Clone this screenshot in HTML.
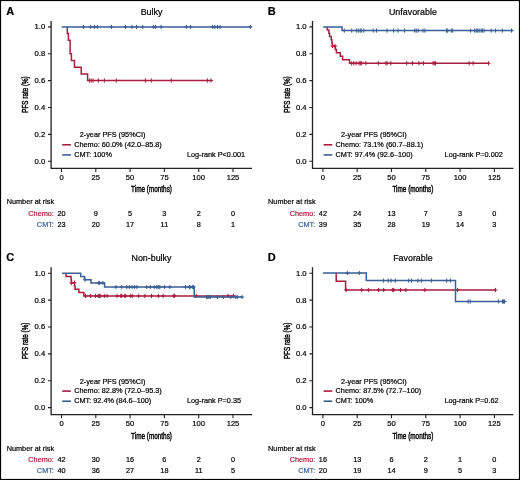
<!DOCTYPE html>
<html><head><meta charset="utf-8"><style>
html,body{margin:0;padding:0;background:#fff;}
svg{display:block;font-family:"Liberation Sans", sans-serif;will-change:transform;} text{stroke-width:0.2px;}
</style></head><body>
<svg width="520" height="480" viewBox="0 0 520 480">
<rect x="0" y="0" width="520" height="480" fill="#fff"/>
<g transform="translate(0,0)">
<text x="6.3" y="15.1" font-size="11" font-weight="bold" fill="#000" stroke="#000">A</text>
<text x="151.5" y="14.7" font-size="8.9" text-anchor="middle" fill="#000" stroke="#000">Bulky</text>
<path d="M51.1,21V168.4H252" fill="none" stroke="#222" stroke-width="1.3"/>
<path d="M48,161.30H51.1M48,134.42H51.1M48,107.54H51.1M48,80.66H51.1M48,53.78H51.1M48,26.90H51.1M61.50,168.4V171.9M95.80,168.4V171.9M130.10,168.4V171.9M164.40,168.4V171.9M198.70,168.4V171.9M233.00,168.4V171.9" fill="none" stroke="#222" stroke-width="1.1"/>
<text x="45.2" y="163.75" font-size="7.7" text-anchor="end" fill="#000" stroke="#000">0.0</text>
<text x="45.2" y="136.87" font-size="7.7" text-anchor="end" fill="#000" stroke="#000">0.2</text>
<text x="45.2" y="109.99" font-size="7.7" text-anchor="end" fill="#000" stroke="#000">0.4</text>
<text x="45.2" y="83.11" font-size="7.7" text-anchor="end" fill="#000" stroke="#000">0.6</text>
<text x="45.2" y="56.23" font-size="7.7" text-anchor="end" fill="#000" stroke="#000">0.8</text>
<text x="45.2" y="29.35" font-size="7.7" text-anchor="end" fill="#000" stroke="#000">1.0</text>
<text x="61.50" y="179.9" font-size="7.6" text-anchor="middle" fill="#000" stroke="#000">0</text>
<text x="95.80" y="179.9" font-size="7.6" text-anchor="middle" fill="#000" stroke="#000">25</text>
<text x="130.10" y="179.9" font-size="7.6" text-anchor="middle" fill="#000" stroke="#000">50</text>
<text x="164.40" y="179.9" font-size="7.6" text-anchor="middle" fill="#000" stroke="#000">75</text>
<text x="198.70" y="179.9" font-size="7.6" text-anchor="middle" fill="#000" stroke="#000">100</text>
<text x="233.00" y="179.9" font-size="7.6" text-anchor="middle" fill="#000" stroke="#000">125</text>
<text x="151.5" y="192.3" font-size="9.3" text-anchor="middle" textLength="40.9" lengthAdjust="spacingAndGlyphs" style="stroke-width:0.45px" fill="#000" stroke="#000">Time (months)</text>
<text transform="translate(28.4,94.5) rotate(-90)" x="0" y="0" font-size="9.3" text-anchor="middle" textLength="36.4" lengthAdjust="spacingAndGlyphs" style="stroke-width:0.45px" fill="#000" stroke="#000">PFS rate (%)</text>
<text x="79.7" y="137.4" font-size="7.3" fill="#000" stroke="#000">2-year PFS (95%CI)</text>
<path d="M62.2,144.8H70.9" stroke="#a91d3f" stroke-width="1.6"/>
<text x="74.2" y="146.9" font-size="7.3" fill="#000" stroke="#000">Chemo: 60.0% (42.0–85.8)</text>
<path d="M62.2,154.9H70.9" stroke="#3a5f95" stroke-width="1.6"/>
<text x="74.2" y="157.1" font-size="7.3" fill="#000" stroke="#000">CMT: 100%</text>
<text x="186.9" y="157" font-size="7.3" fill="#000" stroke="#000">Log-rank P&lt;0.001</text>
<text x="6.7" y="204.3" font-size="7.3" fill="#000" stroke="#000">Number at risk</text>
<text x="53.9" y="215.6" font-size="7.3" text-anchor="end" fill="#a91d3f" stroke="#a91d3f">Chemo:</text>
<text x="53.9" y="226.6" font-size="7.3" text-anchor="end" fill="#3a5f95" stroke="#3a5f95">CMT:</text>
<text x="61.50" y="215.6" font-size="7.3" text-anchor="middle" fill="#000" stroke="#000">20</text>
<text x="61.50" y="226.6" font-size="7.3" text-anchor="middle" fill="#000" stroke="#000">23</text>
<text x="95.80" y="215.6" font-size="7.3" text-anchor="middle" fill="#000" stroke="#000">9</text>
<text x="95.80" y="226.6" font-size="7.3" text-anchor="middle" fill="#000" stroke="#000">20</text>
<text x="130.10" y="215.6" font-size="7.3" text-anchor="middle" fill="#000" stroke="#000">5</text>
<text x="130.10" y="226.6" font-size="7.3" text-anchor="middle" fill="#000" stroke="#000">17</text>
<text x="164.40" y="215.6" font-size="7.3" text-anchor="middle" fill="#000" stroke="#000">3</text>
<text x="164.40" y="226.6" font-size="7.3" text-anchor="middle" fill="#000" stroke="#000">11</text>
<text x="198.70" y="215.6" font-size="7.3" text-anchor="middle" fill="#000" stroke="#000">2</text>
<text x="198.70" y="226.6" font-size="7.3" text-anchor="middle" fill="#000" stroke="#000">8</text>
<text x="233.00" y="215.6" font-size="7.3" text-anchor="middle" fill="#000" stroke="#000">0</text>
<text x="233.00" y="226.6" font-size="7.3" text-anchor="middle" fill="#000" stroke="#000">1</text>
</g>
<path d="M67.30,26.90H67.30V33.50H68.40V40.30H70.10V53.70H71.40V60.40H74.50V67.20H81.20V73.90H87.60V80.50H211.80" fill="none" stroke="#a91d3f" stroke-width="1.5" stroke-linejoin="miter"/><path d="M89.60,78.40V82.60M87.60,80.50H91.60M91.20,78.40V82.60M89.20,80.50H93.20M93.10,78.40V82.60M91.10,80.50H95.10M98.30,78.40V82.60M96.30,80.50H100.30M104.40,78.40V82.60M102.40,80.50H106.40M116.30,78.40V82.60M114.30,80.50H118.30M145.40,78.40V82.60M143.40,80.50H147.40M151.30,78.40V82.60M149.30,80.50H153.30M171.30,78.40V82.60M169.30,80.50H173.30M207.40,78.40V82.60M205.40,80.50H209.40M211.00,78.40V82.60M209.00,80.50H213.00" fill="none" stroke="#a91d3f" stroke-width="1.0"/>
<path d="M61.70,26.90H251.80" fill="none" stroke="#3a5f95" stroke-width="1.5" stroke-linejoin="miter"/><path d="M83.40,24.80V29.00M81.40,26.90H85.40M90.60,24.80V29.00M88.60,26.90H92.60M94.40,24.80V29.00M92.40,26.90H96.40M97.30,24.80V29.00M95.30,26.90H99.30M111.50,24.80V29.00M109.50,26.90H113.50M125.50,24.80V29.00M123.50,26.90H127.50M131.90,24.80V29.00M129.90,26.90H133.90M136.50,24.80V29.00M134.50,26.90H138.50M142.70,24.80V29.00M140.70,26.90H144.70M153.40,24.80V29.00M151.40,26.90H155.40M155.50,24.80V29.00M153.50,26.90H157.50M161.10,24.80V29.00M159.10,26.90H163.10M186.30,24.80V29.00M184.30,26.90H188.30M190.60,24.80V29.00M188.60,26.90H192.60M212.70,24.80V29.00M210.70,26.90H214.70M214.80,24.80V29.00M212.80,26.90H216.80M217.50,24.80V29.00M215.50,26.90H219.50M220.00,24.80V29.00M218.00,26.90H222.00M250.30,24.80V29.00M248.30,26.90H252.30" fill="none" stroke="#3a5f95" stroke-width="1.0"/>
<g transform="translate(261.4,0)">
<text x="6.3" y="15.1" font-size="11" font-weight="bold" fill="#000" stroke="#000">B</text>
<text x="151.5" y="14.7" font-size="8.9" text-anchor="middle" fill="#000" stroke="#000">Unfavorable</text>
<path d="M51.1,21V168.4H252" fill="none" stroke="#222" stroke-width="1.3"/>
<path d="M48,161.30H51.1M48,134.42H51.1M48,107.54H51.1M48,80.66H51.1M48,53.78H51.1M48,26.90H51.1M61.50,168.4V171.9M95.80,168.4V171.9M130.10,168.4V171.9M164.40,168.4V171.9M198.70,168.4V171.9M233.00,168.4V171.9" fill="none" stroke="#222" stroke-width="1.1"/>
<text x="45.2" y="163.75" font-size="7.7" text-anchor="end" fill="#000" stroke="#000">0.0</text>
<text x="45.2" y="136.87" font-size="7.7" text-anchor="end" fill="#000" stroke="#000">0.2</text>
<text x="45.2" y="109.99" font-size="7.7" text-anchor="end" fill="#000" stroke="#000">0.4</text>
<text x="45.2" y="83.11" font-size="7.7" text-anchor="end" fill="#000" stroke="#000">0.6</text>
<text x="45.2" y="56.23" font-size="7.7" text-anchor="end" fill="#000" stroke="#000">0.8</text>
<text x="45.2" y="29.35" font-size="7.7" text-anchor="end" fill="#000" stroke="#000">1.0</text>
<text x="61.50" y="179.9" font-size="7.6" text-anchor="middle" fill="#000" stroke="#000">0</text>
<text x="95.80" y="179.9" font-size="7.6" text-anchor="middle" fill="#000" stroke="#000">25</text>
<text x="130.10" y="179.9" font-size="7.6" text-anchor="middle" fill="#000" stroke="#000">50</text>
<text x="164.40" y="179.9" font-size="7.6" text-anchor="middle" fill="#000" stroke="#000">75</text>
<text x="198.70" y="179.9" font-size="7.6" text-anchor="middle" fill="#000" stroke="#000">100</text>
<text x="233.00" y="179.9" font-size="7.6" text-anchor="middle" fill="#000" stroke="#000">125</text>
<text x="151.5" y="192.3" font-size="9.3" text-anchor="middle" textLength="40.9" lengthAdjust="spacingAndGlyphs" style="stroke-width:0.45px" fill="#000" stroke="#000">Time (months)</text>
<text transform="translate(28.4,94.5) rotate(-90)" x="0" y="0" font-size="9.3" text-anchor="middle" textLength="36.4" lengthAdjust="spacingAndGlyphs" style="stroke-width:0.45px" fill="#000" stroke="#000">PFS rate (%)</text>
<text x="79.7" y="137.4" font-size="7.3" fill="#000" stroke="#000">2-year PFS (95%CI)</text>
<path d="M62.2,144.8H70.9" stroke="#a91d3f" stroke-width="1.6"/>
<text x="74.2" y="146.9" font-size="7.3" fill="#000" stroke="#000">Chemo: 73.1% (60.7–88.1)</text>
<path d="M62.2,154.9H70.9" stroke="#3a5f95" stroke-width="1.6"/>
<text x="74.2" y="157.1" font-size="7.3" fill="#000" stroke="#000">CMT: 97.4% (92.6–100)</text>
<text x="183.2" y="157" font-size="7.3" fill="#000" stroke="#000">Log-rank P=0.002</text>
<text x="6.7" y="204.3" font-size="7.3" fill="#000" stroke="#000">Number at risk</text>
<text x="53.9" y="215.6" font-size="7.3" text-anchor="end" fill="#a91d3f" stroke="#a91d3f">Chemo:</text>
<text x="53.9" y="226.6" font-size="7.3" text-anchor="end" fill="#3a5f95" stroke="#3a5f95">CMT:</text>
<text x="61.50" y="215.6" font-size="7.3" text-anchor="middle" fill="#000" stroke="#000">42</text>
<text x="61.50" y="226.6" font-size="7.3" text-anchor="middle" fill="#000" stroke="#000">39</text>
<text x="95.80" y="215.6" font-size="7.3" text-anchor="middle" fill="#000" stroke="#000">24</text>
<text x="95.80" y="226.6" font-size="7.3" text-anchor="middle" fill="#000" stroke="#000">35</text>
<text x="130.10" y="215.6" font-size="7.3" text-anchor="middle" fill="#000" stroke="#000">13</text>
<text x="130.10" y="226.6" font-size="7.3" text-anchor="middle" fill="#000" stroke="#000">28</text>
<text x="164.40" y="215.6" font-size="7.3" text-anchor="middle" fill="#000" stroke="#000">7</text>
<text x="164.40" y="226.6" font-size="7.3" text-anchor="middle" fill="#000" stroke="#000">19</text>
<text x="198.70" y="215.6" font-size="7.3" text-anchor="middle" fill="#000" stroke="#000">3</text>
<text x="198.70" y="226.6" font-size="7.3" text-anchor="middle" fill="#000" stroke="#000">14</text>
<text x="233.00" y="215.6" font-size="7.3" text-anchor="middle" fill="#000" stroke="#000">0</text>
<text x="233.00" y="226.6" font-size="7.3" text-anchor="middle" fill="#000" stroke="#000">3</text>
</g>
<path d="M327.30,26.90H327.30V30.10H328.90V33.30H329.60V36.50H331.20V39.70H331.90V42.90H332.40V46.10H335.30V49.40H336.40V52.80H340.30V56.20H342.60V59.80H349.50V63.30H489.20" fill="none" stroke="#a91d3f" stroke-width="1.5" stroke-linejoin="miter"/><path d="M332.50,44.00V48.20M330.50,46.10H334.50M335.10,44.00V48.20M333.10,46.10H337.10M351.60,61.20V65.40M349.60,63.30H353.60M353.70,61.20V65.40M351.70,63.30H355.70M356.00,61.20V65.40M354.00,63.30H358.00M359.10,61.20V65.40M357.10,63.30H361.10M360.30,61.20V65.40M358.30,63.30H362.30M361.70,61.20V65.40M359.70,63.30H363.70M365.80,61.20V65.40M363.80,63.30H367.80M378.30,61.20V65.40M376.30,63.30H380.30M385.90,61.20V65.40M383.90,63.30H387.90M387.10,61.20V65.40M385.10,63.30H389.10M390.80,61.20V65.40M388.80,63.30H392.80M406.70,61.20V65.40M404.70,63.30H408.70M412.50,61.20V65.40M410.50,63.30H414.50M419.00,61.20V65.40M417.00,63.30H421.00M423.50,61.20V65.40M421.50,63.30H425.50M433.00,61.20V65.40M431.00,63.30H435.00M434.30,61.20V65.40M432.30,63.30H436.30M435.50,61.20V65.40M433.50,63.30H437.50M469.20,61.20V65.40M467.20,63.30H471.20M473.10,61.20V65.40M471.10,63.30H475.10M488.50,61.20V65.40M486.50,63.30H490.50" fill="none" stroke="#a91d3f" stroke-width="1.0"/>
<path d="M323.10,26.90H342.00V30.60H513.30" fill="none" stroke="#3a5f95" stroke-width="1.5" stroke-linejoin="miter"/><path d="M344.30,28.50V32.70M342.30,30.60H346.30M351.70,28.50V32.70M349.70,30.60H353.70M356.30,28.50V32.70M354.30,30.60H358.30M358.30,28.50V32.70M356.30,30.60H360.30M360.20,28.50V32.70M358.20,30.60H362.20M361.30,28.50V32.70M359.30,30.60H363.30M363.80,28.50V32.70M361.80,30.60H365.80M373.20,28.50V32.70M371.20,30.60H375.20M376.50,28.50V32.70M374.50,30.60H378.50M387.00,28.50V32.70M385.00,30.60H389.00M393.50,28.50V32.70M391.50,30.60H395.50M398.00,28.50V32.70M396.00,30.60H400.00M404.50,28.50V32.70M402.50,30.60H406.50M414.80,28.50V32.70M412.80,30.60H416.80M416.30,28.50V32.70M414.30,30.60H418.30M418.20,28.50V32.70M416.20,30.60H420.20M423.00,28.50V32.70M421.00,30.60H425.00M424.90,28.50V32.70M422.90,30.60H426.90M446.50,28.50V32.70M444.50,30.60H448.50M447.70,28.50V32.70M445.70,30.60H449.70M451.30,28.50V32.70M449.30,30.60H453.30M452.70,28.50V32.70M450.70,30.60H454.70M470.60,28.50V32.70M468.60,30.60H472.60M474.60,28.50V32.70M472.60,30.60H476.60M476.30,28.50V32.70M474.30,30.60H478.30M477.70,28.50V32.70M475.70,30.60H479.70M479.20,28.50V32.70M477.20,30.60H481.20M481.20,28.50V32.70M479.20,30.60H483.20M482.30,28.50V32.70M480.30,30.60H484.30M484.00,28.50V32.70M482.00,30.60H486.00M491.20,28.50V32.70M489.20,30.60H493.20M495.40,28.50V32.70M493.40,30.60H497.40M502.30,28.50V32.70M500.30,30.60H504.30M511.50,28.50V32.70M509.50,30.60H513.50" fill="none" stroke="#3a5f95" stroke-width="1.0"/>
<g transform="translate(0,246.3)">
<text x="6.3" y="15.1" font-size="11" font-weight="bold" fill="#000" stroke="#000">C</text>
<text x="151.5" y="14.7" font-size="8.9" text-anchor="middle" fill="#000" stroke="#000">Non-bulky</text>
<path d="M51.1,21V168.4H252" fill="none" stroke="#222" stroke-width="1.3"/>
<path d="M48,161.30H51.1M48,134.42H51.1M48,107.54H51.1M48,80.66H51.1M48,53.78H51.1M48,26.90H51.1M61.50,168.4V171.9M95.80,168.4V171.9M130.10,168.4V171.9M164.40,168.4V171.9M198.70,168.4V171.9M233.00,168.4V171.9" fill="none" stroke="#222" stroke-width="1.1"/>
<text x="45.2" y="163.75" font-size="7.7" text-anchor="end" fill="#000" stroke="#000">0.0</text>
<text x="45.2" y="136.87" font-size="7.7" text-anchor="end" fill="#000" stroke="#000">0.2</text>
<text x="45.2" y="109.99" font-size="7.7" text-anchor="end" fill="#000" stroke="#000">0.4</text>
<text x="45.2" y="83.11" font-size="7.7" text-anchor="end" fill="#000" stroke="#000">0.6</text>
<text x="45.2" y="56.23" font-size="7.7" text-anchor="end" fill="#000" stroke="#000">0.8</text>
<text x="45.2" y="29.35" font-size="7.7" text-anchor="end" fill="#000" stroke="#000">1.0</text>
<text x="61.50" y="179.9" font-size="7.6" text-anchor="middle" fill="#000" stroke="#000">0</text>
<text x="95.80" y="179.9" font-size="7.6" text-anchor="middle" fill="#000" stroke="#000">25</text>
<text x="130.10" y="179.9" font-size="7.6" text-anchor="middle" fill="#000" stroke="#000">50</text>
<text x="164.40" y="179.9" font-size="7.6" text-anchor="middle" fill="#000" stroke="#000">75</text>
<text x="198.70" y="179.9" font-size="7.6" text-anchor="middle" fill="#000" stroke="#000">100</text>
<text x="233.00" y="179.9" font-size="7.6" text-anchor="middle" fill="#000" stroke="#000">125</text>
<text x="151.5" y="192.3" font-size="9.3" text-anchor="middle" textLength="40.9" lengthAdjust="spacingAndGlyphs" style="stroke-width:0.45px" fill="#000" stroke="#000">Time (months)</text>
<text transform="translate(28.4,94.5) rotate(-90)" x="0" y="0" font-size="9.3" text-anchor="middle" textLength="36.4" lengthAdjust="spacingAndGlyphs" style="stroke-width:0.45px" fill="#000" stroke="#000">PFS rate (%)</text>
<text x="79.7" y="137.4" font-size="7.3" fill="#000" stroke="#000">2-year PFS (95%CI)</text>
<path d="M62.2,144.8H70.9" stroke="#a91d3f" stroke-width="1.6"/>
<text x="74.2" y="146.9" font-size="7.3" fill="#000" stroke="#000">Chemo: 82.8% (72.0–95.3)</text>
<path d="M62.2,154.9H70.9" stroke="#3a5f95" stroke-width="1.6"/>
<text x="74.2" y="157.1" font-size="7.3" fill="#000" stroke="#000">CMT: 92.4% (84.6–100)</text>
<text x="186.9" y="157" font-size="7.3" fill="#000" stroke="#000">Log-rank P=0.35</text>
<text x="6.7" y="204.3" font-size="7.3" fill="#000" stroke="#000">Number at risk</text>
<text x="53.9" y="215.6" font-size="7.3" text-anchor="end" fill="#a91d3f" stroke="#a91d3f">Chemo:</text>
<text x="53.9" y="226.6" font-size="7.3" text-anchor="end" fill="#3a5f95" stroke="#3a5f95">CMT:</text>
<text x="61.50" y="215.6" font-size="7.3" text-anchor="middle" fill="#000" stroke="#000">42</text>
<text x="61.50" y="226.6" font-size="7.3" text-anchor="middle" fill="#000" stroke="#000">40</text>
<text x="95.80" y="215.6" font-size="7.3" text-anchor="middle" fill="#000" stroke="#000">30</text>
<text x="95.80" y="226.6" font-size="7.3" text-anchor="middle" fill="#000" stroke="#000">36</text>
<text x="130.10" y="215.6" font-size="7.3" text-anchor="middle" fill="#000" stroke="#000">16</text>
<text x="130.10" y="226.6" font-size="7.3" text-anchor="middle" fill="#000" stroke="#000">27</text>
<text x="164.40" y="215.6" font-size="7.3" text-anchor="middle" fill="#000" stroke="#000">6</text>
<text x="164.40" y="226.6" font-size="7.3" text-anchor="middle" fill="#000" stroke="#000">18</text>
<text x="198.70" y="215.6" font-size="7.3" text-anchor="middle" fill="#000" stroke="#000">2</text>
<text x="198.70" y="226.6" font-size="7.3" text-anchor="middle" fill="#000" stroke="#000">11</text>
<text x="233.00" y="215.6" font-size="7.3" text-anchor="middle" fill="#000" stroke="#000">0</text>
<text x="233.00" y="226.6" font-size="7.3" text-anchor="middle" fill="#000" stroke="#000">5</text>
</g>
<path d="M66.10,273.30H66.10V276.50H71.10V279.70H71.40V282.90H74.50V286.10H75.10V289.30H78.90V292.60H83.90V295.90H234.50" fill="none" stroke="#a91d3f" stroke-width="1.5" stroke-linejoin="miter"/><path d="M71.40,280.80V285.00M69.40,282.90H73.40M74.50,280.60V284.80M72.50,282.70H76.50M85.50,293.80V298.00M83.50,295.90H87.50M90.50,293.80V298.00M88.50,295.90H92.50M95.50,293.80V298.00M93.50,295.90H97.50M98.20,293.80V298.00M96.20,295.90H100.20M99.30,293.80V298.00M97.30,295.90H101.30M100.30,293.80V298.00M98.30,295.90H102.30M104.30,293.80V298.00M102.30,295.90H106.30M107.00,293.80V298.00M105.00,295.90H109.00M117.00,293.80V298.00M115.00,295.90H119.00M120.80,293.80V298.00M118.80,295.90H122.80M121.70,293.80V298.00M119.70,295.90H123.70M124.90,293.80V298.00M122.90,295.90H126.90M125.70,293.80V298.00M123.70,295.90H127.70M130.30,293.80V298.00M128.30,295.90H132.30M132.20,293.80V298.00M130.20,295.90H134.20M138.70,293.80V298.00M136.70,295.90H140.70M144.90,293.80V298.00M142.90,295.90H146.90M151.50,293.80V298.00M149.50,295.90H153.50M158.40,293.80V298.00M156.40,295.90H160.40M163.20,293.80V298.00M161.20,295.90H165.20M173.80,293.80V298.00M171.80,295.90H175.80M174.60,293.80V298.00M172.60,295.90H176.60M196.20,293.80V298.00M194.20,295.90H198.20M228.00,293.80V298.00M226.00,295.90H230.00M233.50,293.80V298.00M231.50,295.90H235.50" fill="none" stroke="#a91d3f" stroke-width="1.0"/>
<path d="M62.10,273.30H80.70V276.50H84.50V279.70H91.00V282.90H104.60V287.10H194.20V297.00H243.00" fill="none" stroke="#3a5f95" stroke-width="1.5" stroke-linejoin="miter"/><path d="M85.20,277.60V281.80M83.20,279.70H87.20M98.80,280.80V285.00M96.80,282.90H100.80M99.80,280.80V285.00M97.80,282.90H101.80M102.90,280.80V285.00M100.90,282.90H104.90M115.90,285.00V289.20M113.90,287.10H117.90M121.70,285.00V289.20M119.70,287.10H123.70M126.80,285.00V289.20M124.80,287.10H128.80M129.40,285.00V289.20M127.40,287.10H131.40M132.10,285.00V289.20M130.10,287.10H134.10M134.60,285.00V289.20M132.60,287.10H136.60M136.90,285.00V289.20M134.90,287.10H138.90M146.70,285.00V289.20M144.70,287.10H148.70M150.20,285.00V289.20M148.20,287.10H152.20M154.20,285.00V289.20M152.20,287.10H156.20M156.80,285.00V289.20M154.80,287.10H158.80M158.30,285.00V289.20M156.30,287.10H160.30M159.80,285.00V289.20M157.80,287.10H161.80M164.40,285.00V289.20M162.40,287.10H166.40M169.80,285.00V289.20M167.80,287.10H171.80M185.50,285.00V289.20M183.50,287.10H187.50M189.40,285.00V289.20M187.40,287.10H191.40M190.00,285.00V289.20M188.00,287.10H192.00M192.30,285.00V289.20M190.30,287.10H194.30M193.50,285.00V289.20M191.50,287.10H195.50M206.50,294.90V299.10M204.50,297.00H208.50M207.70,294.90V299.10M205.70,297.00H209.70M208.80,294.90V299.10M206.80,297.00H210.80M210.40,294.90V299.10M208.40,297.00H212.40M217.60,294.90V299.10M215.60,297.00H219.60M223.40,294.90V299.10M221.40,297.00H225.40M230.80,294.90V299.10M228.80,297.00H232.80M235.80,294.90V299.10M233.80,297.00H237.80M237.30,294.90V299.10M235.30,297.00H239.30M242.00,294.90V299.10M240.00,297.00H244.00" fill="none" stroke="#3a5f95" stroke-width="1.0"/>
<g transform="translate(261.4,246.3)">
<text x="6.3" y="15.1" font-size="11" font-weight="bold" fill="#000" stroke="#000">D</text>
<text x="151.5" y="14.7" font-size="8.9" text-anchor="middle" fill="#000" stroke="#000">Favorable</text>
<path d="M51.1,21V168.4H252" fill="none" stroke="#222" stroke-width="1.3"/>
<path d="M48,161.30H51.1M48,134.42H51.1M48,107.54H51.1M48,80.66H51.1M48,53.78H51.1M48,26.90H51.1M61.50,168.4V171.9M95.80,168.4V171.9M130.10,168.4V171.9M164.40,168.4V171.9M198.70,168.4V171.9M233.00,168.4V171.9" fill="none" stroke="#222" stroke-width="1.1"/>
<text x="45.2" y="163.75" font-size="7.7" text-anchor="end" fill="#000" stroke="#000">0.0</text>
<text x="45.2" y="136.87" font-size="7.7" text-anchor="end" fill="#000" stroke="#000">0.2</text>
<text x="45.2" y="109.99" font-size="7.7" text-anchor="end" fill="#000" stroke="#000">0.4</text>
<text x="45.2" y="83.11" font-size="7.7" text-anchor="end" fill="#000" stroke="#000">0.6</text>
<text x="45.2" y="56.23" font-size="7.7" text-anchor="end" fill="#000" stroke="#000">0.8</text>
<text x="45.2" y="29.35" font-size="7.7" text-anchor="end" fill="#000" stroke="#000">1.0</text>
<text x="61.50" y="179.9" font-size="7.6" text-anchor="middle" fill="#000" stroke="#000">0</text>
<text x="95.80" y="179.9" font-size="7.6" text-anchor="middle" fill="#000" stroke="#000">25</text>
<text x="130.10" y="179.9" font-size="7.6" text-anchor="middle" fill="#000" stroke="#000">50</text>
<text x="164.40" y="179.9" font-size="7.6" text-anchor="middle" fill="#000" stroke="#000">75</text>
<text x="198.70" y="179.9" font-size="7.6" text-anchor="middle" fill="#000" stroke="#000">100</text>
<text x="233.00" y="179.9" font-size="7.6" text-anchor="middle" fill="#000" stroke="#000">125</text>
<text x="151.5" y="192.3" font-size="9.3" text-anchor="middle" textLength="40.9" lengthAdjust="spacingAndGlyphs" style="stroke-width:0.45px" fill="#000" stroke="#000">Time (months)</text>
<text transform="translate(28.4,94.5) rotate(-90)" x="0" y="0" font-size="9.3" text-anchor="middle" textLength="36.4" lengthAdjust="spacingAndGlyphs" style="stroke-width:0.45px" fill="#000" stroke="#000">PFS rate (%)</text>
<text x="79.7" y="137.4" font-size="7.3" fill="#000" stroke="#000">2-year PFS (95%CI)</text>
<path d="M62.2,144.8H70.9" stroke="#a91d3f" stroke-width="1.6"/>
<text x="74.2" y="146.9" font-size="7.3" fill="#000" stroke="#000">Chemo: 87.5% (72.7–100)</text>
<path d="M62.2,154.9H70.9" stroke="#3a5f95" stroke-width="1.6"/>
<text x="74.2" y="157.1" font-size="7.3" fill="#000" stroke="#000">CMT: 100%</text>
<text x="183.0" y="157" font-size="7.3" fill="#000" stroke="#000">Log-rank P=0.62</text>
<text x="6.7" y="204.3" font-size="7.3" fill="#000" stroke="#000">Number at risk</text>
<text x="53.9" y="215.6" font-size="7.3" text-anchor="end" fill="#a91d3f" stroke="#a91d3f">Chemo:</text>
<text x="53.9" y="226.6" font-size="7.3" text-anchor="end" fill="#3a5f95" stroke="#3a5f95">CMT:</text>
<text x="61.50" y="215.6" font-size="7.3" text-anchor="middle" fill="#000" stroke="#000">16</text>
<text x="61.50" y="226.6" font-size="7.3" text-anchor="middle" fill="#000" stroke="#000">20</text>
<text x="95.80" y="215.6" font-size="7.3" text-anchor="middle" fill="#000" stroke="#000">13</text>
<text x="95.80" y="226.6" font-size="7.3" text-anchor="middle" fill="#000" stroke="#000">19</text>
<text x="130.10" y="215.6" font-size="7.3" text-anchor="middle" fill="#000" stroke="#000">6</text>
<text x="130.10" y="226.6" font-size="7.3" text-anchor="middle" fill="#000" stroke="#000">14</text>
<text x="164.40" y="215.6" font-size="7.3" text-anchor="middle" fill="#000" stroke="#000">2</text>
<text x="164.40" y="226.6" font-size="7.3" text-anchor="middle" fill="#000" stroke="#000">9</text>
<text x="198.70" y="215.6" font-size="7.3" text-anchor="middle" fill="#000" stroke="#000">1</text>
<text x="198.70" y="226.6" font-size="7.3" text-anchor="middle" fill="#000" stroke="#000">5</text>
<text x="233.00" y="215.6" font-size="7.3" text-anchor="middle" fill="#000" stroke="#000">0</text>
<text x="233.00" y="226.6" font-size="7.3" text-anchor="middle" fill="#000" stroke="#000">3</text>
</g>
<path d="M336.20,273.00H336.20V281.30H345.60V290.00H495.80" fill="none" stroke="#a91d3f" stroke-width="1.5" stroke-linejoin="miter"/><path d="M346.20,287.90V292.10M344.20,290.00H348.20M361.70,287.90V292.10M359.70,290.00H363.70M368.70,287.90V292.10M366.70,290.00H370.70M378.50,287.90V292.10M376.50,290.00H380.50M383.70,287.90V292.10M381.70,290.00H385.70M392.70,287.90V292.10M390.70,290.00H394.70M393.70,287.90V292.10M391.70,290.00H395.70M400.50,287.90V292.10M398.50,290.00H402.50M405.90,287.90V292.10M403.90,290.00H407.90M424.80,287.90V292.10M422.80,290.00H426.80M457.60,287.90V292.10M455.60,290.00H459.60M495.50,287.90V292.10M493.50,290.00H497.50" fill="none" stroke="#a91d3f" stroke-width="1.0"/>
<path d="M323.10,273.00H366.30V280.60H455.50V301.50H505.90" fill="none" stroke="#3a5f95" stroke-width="1.5" stroke-linejoin="miter"/><path d="M347.40,270.90V275.10M345.40,273.00H349.40M359.40,270.90V275.10M357.40,273.00H361.40M383.40,278.50V282.70M381.40,280.60H385.40M388.20,278.50V282.70M386.20,280.60H390.20M391.10,278.50V282.70M389.10,280.60H393.10M395.30,278.50V282.70M393.30,280.60H397.30M408.70,278.50V282.70M406.70,280.60H410.70M411.50,278.50V282.70M409.50,280.60H413.50M417.90,278.50V282.70M415.90,280.60H419.90M421.30,278.50V282.70M419.30,280.60H423.30M431.40,278.50V282.70M429.40,280.60H433.40M446.70,278.50V282.70M444.70,280.60H448.70M450.40,278.50V282.70M448.40,280.60H452.40M468.20,299.40V303.60M466.20,301.50H470.20M470.20,299.40V303.60M468.20,301.50H472.20M498.40,299.40V303.60M496.40,301.50H500.40M502.50,299.40V303.60M500.50,301.50H504.50M503.50,299.40V303.60M501.50,301.50H505.50M504.50,299.40V303.60M502.50,301.50H506.50" fill="none" stroke="#3a5f95" stroke-width="1.0"/>
<rect x="0.5" y="0.5" width="519" height="479" fill="none" stroke="#000" stroke-width="1.2"/>
</svg>
</body></html>
